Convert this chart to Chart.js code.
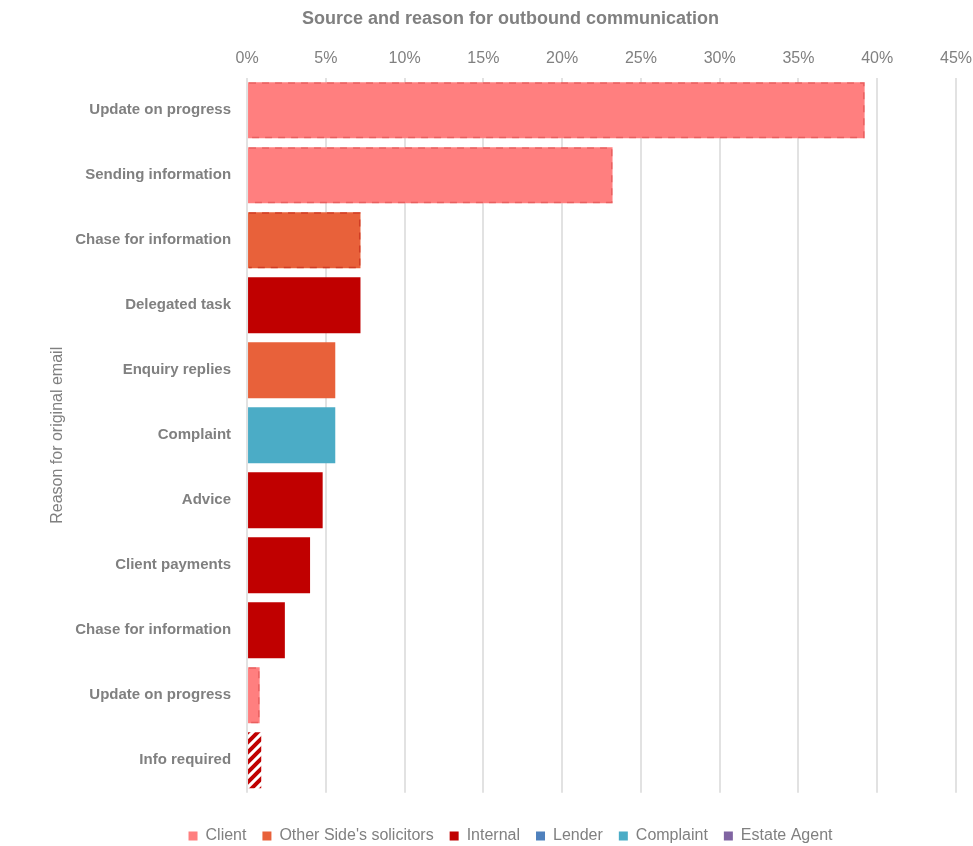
<!DOCTYPE html>
<html>
<head>
<meta charset="utf-8">
<script src="https://cdn.jsdelivr.net/npm/chart.js@4.4.1/dist/chart.umd.min.js"></script>
<style>
  body { margin: 0; background: #fff; }
  #wrap { width: 973px; height: 846px; position: relative; }
</style>
</head>
<body>
<div id="wrap"><canvas id="grafica"></canvas></div>
<script>
// ==============================
// DATOS
// ==============================
const categorias = [
  "Update on progress", "Sending information", "Chase for information",
  "Delegated task", "Enquiry replies", "Complaint", "Advice",
  "Client payments", "Chase for information", "Update on progress", "Info required"
];

const client      = [39.2, 23.2, null, null, null, null, null, null, null, 0.8, null];
const otherSide   = [null, null, 7.2, null, 5.6, null, null, null, null, null, null];
const internal    = [null, null, null, 7.2, null, null, 4.8, 4.0, 2.4, null, 0.9];
const lender      = [null, null, null, null, null, null, null, null, null, null, null];
const complaint   = [null, null, null, null, null, 5.6, null, null, null, null, null];
const estateAgent = [null, null, null, null, null, null, null, null, null, null, null];

const ticksX = [0, 5, 10, 15, 20, 25, 30, 35, 40, 45];

const gris = "#808080";

// ==============================
// RAYADO (Info required)
// ==============================
function rayado(color) {
  const c = document.createElement("canvas");
  c.width = 10; c.height = 10;
  const g = c.getContext("2d");
  g.fillStyle = "#fff";
  g.fillRect(0, 0, 10, 10);
  g.strokeStyle = color;
  g.lineWidth = 4;
  g.beginPath();
  g.moveTo(-2, 12); g.lineTo(12, -2);
  g.moveTo(-7, 7); g.lineTo(7, -7);
  g.moveTo(3, 17); g.lineTo(17, 3);
  g.stroke();
  return g.createPattern(c, "repeat");
}

const rojoInterno = "#C00000";
const fondoInterno = internal.map((v, i) => i === 10 ? rayado(rojoInterno) : rojoInterno);

// ==============================
// BORDES PUNTEADOS (arriba, abajo, derecha)
// ==============================
const bordesPunteados = {
  id: "bordesPunteados",
  afterDatasetsDraw(chart) {
    const ctx = chart.ctx;
    chart.data.datasets.forEach((ds, di) => {
      if (!ds.punteados) return;
      const meta = chart.getDatasetMeta(di);
      ds.punteados.forEach(i => {
        const el = meta.data[i];
        if (!el) return;
        const p = el.getProps(["x", "y", "base", "height"], true);
        const x0 = Math.min(p.base, p.x) + 1, x1 = Math.max(p.base, p.x) - 0.75;
        const y0 = p.y - p.height / 2 + 0.75, y1 = p.y + p.height / 2 - 0.75;
        ctx.save();
        ctx.strokeStyle = ds.colorPunteado;
        ctx.lineWidth = 1.5;
        ctx.setLineDash([7, 6]);
        ctx.beginPath();
        ctx.moveTo(x0, y0); ctx.lineTo(x1, y0); ctx.lineTo(x1, y1); ctx.lineTo(x0, y1);
        ctx.stroke();
        ctx.restore();
      });
    });
  }
};

// ==============================
// GRAFICA
// ==============================
new Chart(document.getElementById("grafica"), {
  type: "bar",
  data: {
    labels: categorias,
    datasets: [
      { label: "Client", data: client, backgroundColor: "#FF7F7F",
        punteados: [0, 1, 9], colorPunteado: "rgba(215,70,70,0.55)" },
      { label: "Other Side's solicitors", data: otherSide, backgroundColor: "#E8613A",
        punteados: [2], colorPunteado: "rgba(200,50,30,0.75)" },
      { label: "Internal", data: internal, backgroundColor: fondoInterno },
      { label: "Lender", data: lender, backgroundColor: "#4F81BD" },
      { label: "Complaint", data: complaint, backgroundColor: "#4BACC6" },
      { label: "Estate Agent", data: estateAgent, backgroundColor: "#8064A2" }
    ]
  },
  options: {
    indexAxis: "y",
    responsive: true,
    maintainAspectRatio: false,
    animation: false,
    barPercentage: 0.86,
    categoryPercentage: 1,
    layout: { padding: { left: 48, right: 0, top: 6, bottom: -8 } },
    scales: {
      x: {
        position: "top",
        stacked: true,
        min: 0,
        max: 45,
        afterBuildTicks: s => { s.ticks = ticksX.map(v => ({ value: v })); },
        afterFit: s => { s.paddingRight = 17; },
        ticks: {
          color: gris,
          font: { family: "Liberation Sans, Arial", size: 16 },
          padding: 10,
          callback: v => v + "%"
        },
        grid: { color: "#e2e2e2", lineWidth: 2, drawTicks: false },
        border: { display: false }
      },
      y: {
        stacked: true,
        ticks: {
          color: gris,
          font: { family: "Liberation Sans, Arial", size: 15, weight: "bold" },
          padding: 8
        },
        grid: { display: false },
        border: { display: false },
        title: {
          display: true,
          text: "Reason for original email",
          color: gris,
          font: { family: "Liberation Sans, Arial", size: 16 },
          padding: { top: 0, bottom: 0 }
        }
      }
    },
    plugins: {
      title: {
        display: true,
        text: "Source and reason for outbound communication",
        color: gris,
        font: { family: "Liberation Sans, Arial", size: 18, weight: "bold" },
        padding: { top: 2, bottom: 9 }
      },
      legend: {
        position: "bottom",
        title: { display: true, text: "", font: { size: 1 }, padding: { top: 18, bottom: 0 } },
        labels: {
          color: gris,
          boxWidth: 9,
          boxHeight: 9,
          padding: 16,
          font: { family: "Liberation Sans, Arial", size: 16 }
        }
      },
      tooltip: { enabled: false }
    }
  },
  plugins: [bordesPunteados]
});
</script>
</body>
</html>
